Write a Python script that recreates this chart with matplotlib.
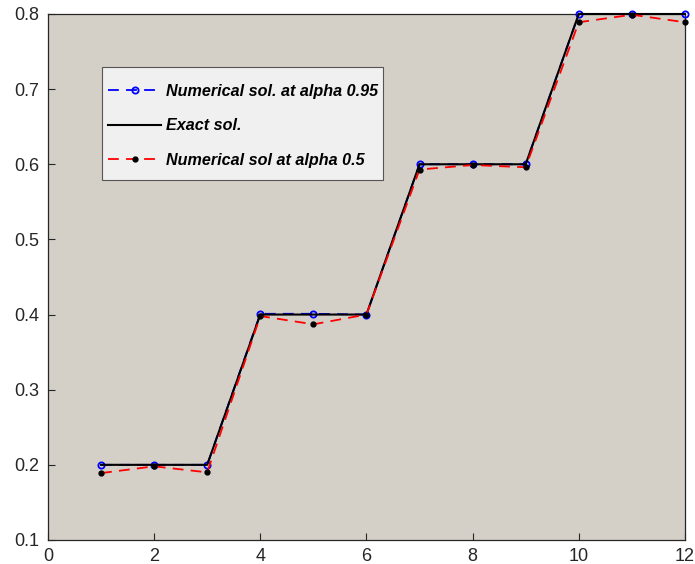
import matplotlib.pyplot as plt
from matplotlib.patches import Rectangle
import numpy as np

# data
x = np.arange(1, 13)
exact = [0.2, 0.2, 0.2, 0.4, 0.4, 0.4, 0.6, 0.6, 0.6, 0.8, 0.8, 0.8]
alpha095 = [0.2, 0.2, 0.2, 0.401, 0.401, 0.4, 0.6, 0.6, 0.6, 0.8, 0.8, 0.8]
alpha05 = [0.189, 0.198, 0.19, 0.398, 0.387, 0.4, 0.593, 0.599, 0.596, 0.789, 0.799, 0.789]

plt.rcParams['font.family'] = ['Liberation Sans', 'DejaVu Sans']

fig = plt.figure(figsize=(6.95, 5.64), dpi=100)
ax = fig.add_axes([0.069, 0.0426, 0.9165, 0.9326])
ax.set_facecolor('#d4d0c8')

ax.plot(x, alpha095, '--', color='blue', lw=1.3, marker='o', markersize=4.5,
        markerfacecolor='none', markeredgecolor='blue', markeredgewidth=1.3,
        dashes=(6, 4), clip_on=False, zorder=3, label='Numerical sol. at alpha 0.95')
ax.plot(x, exact, '-', color='black', lw=1.5, clip_on=False, zorder=3, label='Exact sol.')
ax.plot(x, alpha05, '--', color='red', lw=1.3, marker='o', markersize=3.5,
        markerfacecolor='black', markeredgecolor='black',
        dashes=(6, 4), clip_on=False, zorder=3, label='Numerical sol at alpha 0.5')

ax.set_xlim(0, 12)
ax.set_ylim(0.1, 0.8)
ax.set_xticks(np.arange(0, 13, 2))
ax.set_yticks(np.arange(0.1, 0.81, 0.1))
ax.set_yticklabels(['0.1', '0.2', '0.3', '0.4', '0.5', '0.6', '0.7', '0.8'])
ax.tick_params(direction='in', length=5, width=0.8, labelsize=13,
               labelcolor='#262626', color='#262626', pad=6)
for s in ax.spines.values():
    s.set_color('#262626')
    s.set_linewidth(0.9)

# legend box drawn separately so the padding matches the MATLAB look
box = Rectangle((0.0848, 0.684), 0.4412, 0.215, transform=ax.transAxes,
                facecolor='#f0f0f0', edgecolor='#555555', lw=0.8, zorder=4)
ax.add_patch(box)
leg = ax.legend(loc='upper left', bbox_to_anchor=(0.0942, 0.867), borderaxespad=0,
                frameon=False, prop={'size': 11.6, 'weight': 'bold', 'style': 'italic'},
                handlelength=3.3, labelspacing=1.2, borderpad=0, handletextpad=0.3)
leg.set_zorder(5)

fig.savefig('out.png', dpi=100)
